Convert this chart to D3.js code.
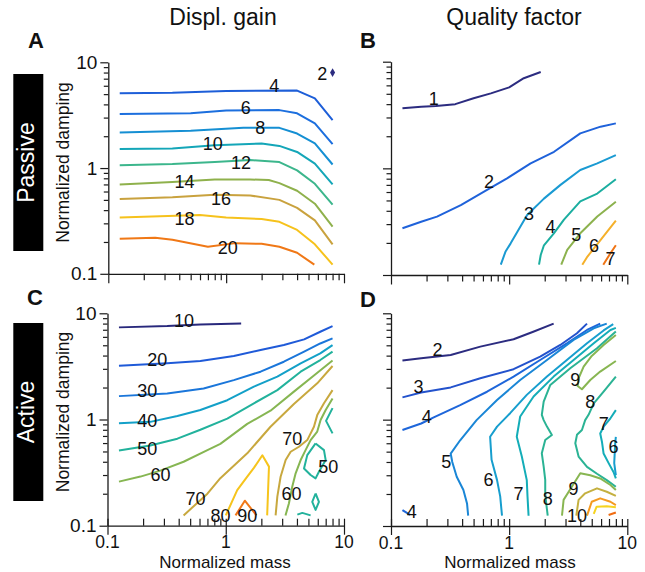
<!DOCTYPE html>
<html><head><meta charset="utf-8">
<script src="https://cdn.jsdelivr.net/npm/d3@7"></script>
<style>
body{margin:0;background:#fff;}
text{font-family:"Liberation Sans",Arial,Helvetica,sans-serif;}
</style>
</head><body>
<svg id="c" width="645" height="572"></svg>
<script>
// ---------- DATA ----------
const titles = ["Displ. gain", "Quality factor"];
const rowLabels = ["Passive", "Active"];
const axisLabelX = "Normalized mass";
const axisLabelY = "Normalized damping";
const majorTicks = [0.1, 1, 10];
const majorTickLabels = ["0.1", "1", "10"];
const minorTicks = [0.2,0.3,0.4,0.5,0.6,0.7,0.8,0.9,2,3,4,5,6,7,8,9];

// Panel A: passive displacement gain  [mass, damping]
const gainPassiveLevels = [2,4,6,8,10,12,14,16,18,20];
const gainPassiveDots = [[2, 8, 8]];
const gainPassiveLines = [
  {level:4,  pts:[[0.125,5.09],[0.35,5.15],[1,5.35],[4,5.4],[5.66,4.56],[8,2.84]]},
  {level:6,  pts:[[0.125,3.24],[0.5,3.3],[1,3.5],[2.83,3.53],[4,3.29],[5.66,2.64],[8,1.68]]},
  {level:8,  pts:[[0.125,2.17],[0.5,2.25],[1.4,2.4],[2.83,2.4],[4,2.12],[5.66,1.71],[8,1.08]]},
  {level:10, pts:[[0.125,1.51],[0.35,1.53],[0.8,1.64],[2,1.71],[2.83,1.62],[4,1.42],[5.66,1.10],[8,0.70]]},
  {level:12, pts:[[0.125,1.06],[0.35,1.09],[0.8,1.14],[1.6,1.19],[2.83,1.14],[4,0.95],[5.66,0.71],[8,0.45]]},
  {level:14, pts:[[0.125,0.70],[0.35,0.74],[0.8,0.78],[1.6,0.78],[2.3,0.77],[2.83,0.72],[4,0.61],[5.66,0.46],[8,0.28]]},
  {level:16, pts:[[0.125,0.51],[0.35,0.53],[0.8,0.56],[1.6,0.55],[2.83,0.50],[4,0.42],[5.66,0.32],[8,0.19]]},
  {level:18, pts:[[0.125,0.34],[0.6,0.36],[1,0.34],[2,0.33],[2.83,0.31],[4,0.26],[5.66,0.19],[8,0.122]]},
  {level:20, pts:[[0.125,0.214],[0.25,0.219],[0.35,0.21],[0.7,0.18],[1.2,0.195],[2,0.192],[2.83,0.18],[4,0.158],[5.6,0.122]]}
];
const gainPassiveLabels = [["2",6.55,7.87],["4",2.56,5.97],["6",1.47,3.75],["8",1.95,2.42],["10",0.77,1.71],
  ["12",1.34,1.14],["14",0.443,0.739],["16",0.905,0.513],["18",0.443,0.332],["20",1.03,0.176]];

// Panel B: passive quality factor
const qPassiveLevels = [1,2,3,4,5,6,7];
const qPassiveLines = [
  {level:1, pts:[[0.125,3.66],[0.18,3.79],[0.24,3.84],[0.35,4.0],[0.5,4.54],[0.7,5.05],[1,5.75],[1.33,7.0],[1.85,8.0]]},
  {level:2, pts:[[0.125,0.274],[0.18,0.316],[0.245,0.353],[0.39,0.453],[0.65,0.627],[0.96,0.806],[1.52,1.115],[2.4,1.43],[4,2.13],[5.94,2.46],[8,2.64]]},
  {level:3, pts:[[0.85,0.125],[0.93,0.165],[1.03,0.198],[1.42,0.365],[1.97,0.52],[2.72,0.70],[4,0.965],[5.57,1.115],[8,1.33]]},
  {level:4, pts:[[1.79,0.125],[1.85,0.154],[1.97,0.19],[2.39,0.246],[2.91,0.33],[4,0.49],[5.57,0.58],[8,0.79]]},
  {level:5, pts:[[2.76,0.125],[3.1,0.172],[4,0.246],[5.57,0.353],[8,0.487]]},
  {level:6, pts:[[4.16,0.125],[4.6,0.149],[5.95,0.213],[8,0.323]]},
  {level:7, pts:[[6.26,0.125],[7.2,0.16],[8,0.19]]}
];
const qPassiveLabels = [["1",0.23,4.47],["2",0.674,0.75],["3",1.47,0.379],["4",2.24,0.284],
  ["5",3.7,0.24],["6",5.22,0.187],["7",7.2,0.143]];

// Panel C: active displacement gain
const gainActiveLevels = [10,20,30,40,50,60,70,80,90];
const gainActiveLines = [
  {level:10, pts:[[0.125,7.37],[0.32,7.58],[0.61,7.86],[1.35,8.0]]},
  {level:20, pts:[[0.125,3.21],[0.32,3.38],[0.61,3.55],[1.17,3.96],[1.97,4.51],[3.1,5.02],[4.6,5.68],[6.3,6.7],[8,7.58]]},
  {level:30, pts:[[0.125,1.66],[0.32,1.76],[0.65,1.96],[1.17,2.35],[1.97,2.82],[3.1,3.5],[4.6,4.35],[6.3,5.2],[8,5.8]]},
  {level:40, pts:[[0.125,0.92],[0.23,0.95],[0.39,1.08],[0.61,1.23],[1.03,1.52],[1.73,2.04],[2.73,2.53],[4.3,3.38],[6.3,4.19],[8,5.02]]},
  {level:50, pts:[[0.125,0.51],[0.23,0.57],[0.39,0.66],[0.61,0.8],[1.03,1.02],[1.73,1.42],[2.73,1.89],[4.3,2.82],[6.3,3.63],[8,4.35]]},
  {level:60, pts:[[0.125,0.26],[0.19,0.29],[0.28,0.33],[0.44,0.40],[0.7,0.515],[0.9,0.59],[1.52,0.91],[2.39,1.21],[3.77,1.83],[5.57,2.6],[8,3.6]]},
  {level:70, pts:[[0.44,0.125],[0.7,0.2],[0.9,0.28],[1.52,0.48],[2.39,0.855],[3.77,1.40],[5.94,2.19],[8,3.19]]},
  {level:70, pts:[[8,1.89],[6.77,1.42],[5.94,1.10],[5.57,0.855],[4.89,0.64],[4.16,0.554],[3.54,0.497],[3.21,0.415],[2.91,0.289],[2.73,0.188],[2.64,0.125]]},
  {level:60, pts:[[8,1.58],[7,1.23],[6.34,0.99],[5.94,0.77],[5.22,0.64],[4.73,0.515],[4.3,0.415],[3.9,0.311],[3.65,0.233],[3.42,0.162],[3.2,0.125]]},
  {level:50, pts:[[8,1.28],[7.05,0.97],[8,0.74]]},
  {level:50, pts:[[5.75,0.595],[6.77,0.515],[7,0.415],[6.14,0.322],[5.75,0.279],[5.22,0.3],[4.59,0.346],[4.89,0.462],[5.75,0.595]]},
  {level:50, pts:[[5.75,0.201],[6.14,0.168],[5.75,0.141],[5.39,0.168],[5.75,0.201]]},
  {level:50, pts:[[4.03,0.127],[4.44,0.132],[5.22,0.125]]},
  {level:80, pts:[[1,0.125],[1.25,0.216],[1.52,0.29],[1.73,0.35],[2.04,0.46],[2.32,0.36],[2.24,0.125]]},
  {level:90, pts:[[1.21,0.125],[1.45,0.172],[1.82,0.125]]}
];
const gainActiveLabels = [["10",0.443,8.63],["20",0.264,3.68],["30",0.217,1.89],["40",0.217,0.988],
  ["50",0.217,0.534],["60",0.281,0.306],["70",0.556,0.181],["80",0.905,0.126],["90",1.52,0.126],
  ["70",3.65,0.664],["50",7.35,0.359],["60",3.6,0.201]];

// Panel D: active quality factor
const qActiveLevels = [2,3,4,5,6,7,8,9,10,11,12,13];
const qActiveLines = [
  {level:2, pts:[[0.125,3.59],[0.18,3.78],[0.32,4.06],[0.57,4.86],[1.09,5.7],[1.6,6.7],[2.38,8]]},
  {level:3, pts:[[0.125,1.62],[0.18,1.8],[0.32,2.01],[0.57,2.45],[1.09,2.98],[1.83,3.92],[2.71,5.04],[3.75,6.5],[4.56,8]]},
  {level:4, pts:[[0.125,0.8],[0.18,0.92],[0.23,1.05],[0.385,1.37],[0.65,1.83],[1.09,2.54],[1.83,3.64],[3.08,5.22],[4.56,6.97],[5.9,8]]},
  {level:4, pts:[[0.125,0.141],[0.145,0.127]]},
  {level:5, pts:[[0.45,0.125],[0.44,0.163],[0.41,0.218],[0.36,0.29],[0.33,0.40],[0.32,0.48],[0.385,0.64],[0.53,0.99],[0.79,1.53],[1.24,2.36],[2.09,3.64],[3.51,5.62],[5.2,7.23],[6.7,8]]},
  {level:6, pts:[[0.87,0.125],[0.84,0.19],[0.79,0.27],[0.71,0.42],[0.69,0.69],[0.79,0.86],[1.02,1.15],[1.41,1.71],[2.09,2.54],[3.08,3.64],[4.56,5.22],[6.3,6.9],[7.6,7.9]]},
  {level:7, pts:[[1.46,0.125],[1.43,0.19],[1.41,0.27],[1.28,0.45],[1.16,0.69],[1.24,1.07],[1.61,1.65],[2.38,2.54],[3.51,3.64],[5.2,5.22],[7.2,6.97],[8,7.3]]},
  {level:8, pts:[[2.12,0.125],[2.06,0.163],[2.02,0.203],[2.02,0.271],[1.96,0.361],[1.89,0.482],[2.02,0.644],[2.3,0.718],[2.09,0.86],[1.96,0.99],[1.89,1.11],[1.96,1.48],[2.23,2.12],[3.29,3.04],[5.54,4.69],[8,6.73]]},
  {level:9, pts:[[8,6.26],[6.3,5.04],[5.0,3.97],[4.27,3.15],[3.87,2.45],[3.8,2.07],[4.13,1.93],[4.86,2.36],[5.9,2.83],[8,3.56]]},
  {level:8, pts:[[8,2.54],[6.3,1.83],[5.2,1.42],[4.7,1.11],[4.4,0.99],[4.13,0.8],[3.75,0.72],[3.63,0.6],[3.87,0.45],[4.56,0.36],[5.54,0.31],[6.7,0.27],[8,0.234]]},
  {level:7, pts:[[8,1.23],[7.2,1.03],[6.3,0.86],[5.9,0.74],[6.1,0.62],[6.3,0.48],[6.95,0.39],[7.66,0.32],[8,0.28]]},
  {level:6, pts:[[8,0.69],[7.9,0.6],[7.75,0.39],[8,0.3]]},
  {level:9, pts:[[2.8,0.125],[2.89,0.176],[3.19,0.21],[4,0.313],[4.86,0.30],[5.9,0.28],[7.2,0.243],[8,0.218]]},
  {level:10, pts:[[3.7,0.125],[3.87,0.176],[4.4,0.203],[5.54,0.226],[6.7,0.21],[8,0.192]]},
  {level:11, pts:[[4.56,0.125],[5.0,0.169],[5.9,0.182],[7.2,0.169],[8,0.157]]},
  {level:12, pts:[[5.2,0.13],[5.5,0.152],[6.7,0.153],[8,0.15]]},
  {level:13, pts:[[6.95,0.127],[8,0.134]]}
];
const qActiveLabels = [["2",0.248,4.52],["3",0.171,2.04],["4",0.201,1.07],["5",0.293,0.402],
  ["6",0.669,0.271],["7",1.2,0.203],["8",2.12,0.182],["9",3.51,0.226],["10",3.75,0.126],
  ["9",3.63,2.36],["8",4.86,1.48],["7",6.31,0.911],["6",7.66,0.557],["4",0.15,0.137]];

// ---------- STYLE ----------
const colorsGainPassive = ["#2c2c80","#1d5ed8","#1c6fde","#158fd3","#14a6b8","#3cb68c","#8fb14c","#c9a23e","#f6c21c","#f07816"];
const colorsQPassive = ["#2c2c80","#1f62da","#1a9ad2","#1baea0","#8cb24e","#f5b02a","#f07414"];
const colorsGainActive = ["#28287c","#1f5ad8","#1a76da","#13a0c8","#22b29c","#86b652","#c8a83e","#f6c41c","#f07818"];
const colorsQActive = ["#2c2c80","#2352cc","#1e66da","#1a86d6","#179ece","#14adb8","#2bb394","#88b652","#c4b040","#f49a20","#f6d420","#f06c12"];

const panels = [
  {lines:gainPassiveLines, labels:gainPassiveLabels, dots:gainPassiveDots, levels:gainPassiveLevels, colors:colorsGainPassive,
   xr:[108.3,344], yr:[273.8,62.3], yTickLabels:true, xTickLabels:false, inward:false, letter:"A", lx:28, ly:48},
  {lines:qPassiveLines, labels:qPassiveLabels, dots:[], levels:qPassiveLevels, colors:colorsQPassive,
   xr:[391,627.3], yr:[275,61.7], yTickLabels:false, xTickLabels:false, inward:false, letter:"B", lx:360, ly:48},
  {lines:gainActiveLines, labels:gainActiveLabels, dots:[], levels:gainActiveLevels, colors:colorsGainActive,
   xr:[107.5,344], yr:[525.7,313.3], yTickLabels:true, xTickLabels:true, inward:true, letter:"C", lx:27, ly:305},
  {lines:qActiveLines, labels:qActiveLabels, dots:[], levels:qActiveLevels, colors:colorsQActive,
   xr:[391,627.3], yr:[526,313.3], yTickLabels:false, xTickLabels:true, inward:true, letter:"D", lx:360, ly:307}
];

const svg = d3.select("#c");
const allTicks = majorTicks.concat(minorTicks);
const isMajor = v => majorTicks.includes(v);
const axisColor = "#1a1a1a";

panels.forEach(p => {
  const x = d3.scaleLog().domain([0.1, 10]).range(p.xr);
  const y = d3.scaleLog().domain([0.1, 10]).range(p.yr);
  const color = d3.scaleOrdinal(p.levels, p.colors);
  const g = svg.append("g");

  // y axis
  const ya = g.append("g").attr("transform", `translate(${p.xr[0]},0)`)
    .call(d3.axisLeft(y).tickValues(allTicks).tickFormat(() => "").tickSizeOuter(0));
  ya.selectAll(".tick line").attr("x2", d => isMajor(d) ? -8 : -4.5);
  // x axis
  const xa = g.append("g").attr("transform", `translate(0,${p.yr[0]})`)
    .call(d3.axisBottom(x).tickValues(allTicks).tickFormat(() => "").tickSizeOuter(0));
  if (p.inward) {
    xa.selectAll(".tick line").attr("y1", -7).attr("y2", d => isMajor(d) ? 9 : 0);
  } else {
    xa.selectAll(".tick line").attr("y2", d => isMajor(d) ? 9.5 : 6.5);
  }
  [ya, xa].forEach(a => {
    a.selectAll("path.domain").attr("stroke", axisColor).attr("stroke-width", 1.3);
    a.selectAll(".tick line").attr("stroke", axisColor).attr("stroke-width", 1.2);
    a.selectAll(".tick text").remove();
  });

  if (p.yTickLabels) {
    g.selectAll(".ytl").data(majorTicks).enter().append("text")
      .attr("x", p.xr[0] - 11).attr("y", d => y(d)).attr("dy", "0.35em")
      .attr("text-anchor", "end").attr("font-size", 19).attr("fill", "#111")
      .text((d, i) => majorTickLabels[i]);
  }
  if (p.xTickLabels) {
    g.selectAll(".xtl").data(majorTicks).enter().append("text")
      .attr("x", d => x(d)).attr("y", p.yr[0] + 22.5)
      .attr("text-anchor", "middle").attr("font-size", 17.5).attr("fill", "#111")
      .text((d, i) => majorTickLabels[i]);
  }

  // contour lines
  const line = d3.line().x(d => x(d[0])).y(d => y(d[1]));
  g.selectAll(".cl").data(p.lines).enter().append("path")
    .attr("d", d => line(d.pts)).attr("fill", "none")
    .attr("stroke", d => color(d.level)).attr("stroke-width", 2)
    .attr("stroke-linejoin", "round").attr("stroke-linecap", "butt");
  // single-point contours
  g.selectAll(".dot").data(p.dots).enter().append("path")
    .attr("d", d3.symbol(d3.symbolDiamond).size(22))
    .attr("transform", d => `translate(${x(d[1])},${y(d[2])})`)
    .attr("fill", d => color(d[0]));
  // contour labels
  g.selectAll(".lab").data(p.labels).enter().append("text")
    .attr("x", d => x(d[1])).attr("y", d => y(d[2])).attr("dy", "0.36em")
    .attr("text-anchor", "middle").attr("font-size", 18).attr("fill", "#111")
    .text(d => d[0]);

  // panel letter
  g.append("text").attr("x", p.lx).attr("y", p.ly).attr("font-size", 22)
    .attr("font-weight", "bold").attr("fill", "#111").text(p.letter);
});

// titles
svg.append("text").attr("x", 223).attr("y", 25).attr("text-anchor", "middle")
  .attr("font-size", 23).attr("fill", "#111").text(titles[0]);
svg.append("text").attr("x", 514).attr("y", 25).attr("text-anchor", "middle")
  .attr("font-size", 23).attr("fill", "#111").text(titles[1]);

// row labels (black boxes)
[[74, 251, 162.5], [323, 501, 412]].forEach((r, i) => {
  svg.append("rect").attr("x", 13.3).attr("y", r[0]).attr("width", 30).attr("height", r[1] - r[0]).attr("fill", "#000");
  svg.append("text").attr("transform", `translate(33.5,${r[2]}) rotate(-90)`)
    .attr("text-anchor", "middle").attr("font-size", 23).attr("fill", "#fff").text(rowLabels[i]);
  svg.append("text").attr("transform", `translate(68.5,${r[2]}) rotate(-90)`)
    .attr("text-anchor", "middle").attr("font-size", 17.5).attr("fill", "#111").text(axisLabelY);
});

// x labels
svg.append("text").attr("x", 225).attr("y", 567.5).attr("text-anchor", "middle")
  .attr("font-size", 17).attr("fill", "#111").text(axisLabelX);
svg.append("text").attr("x", 510).attr("y", 567.5).attr("text-anchor", "middle")
  .attr("font-size", 17).attr("fill", "#111").text(axisLabelX);
</script>
</body></html>
